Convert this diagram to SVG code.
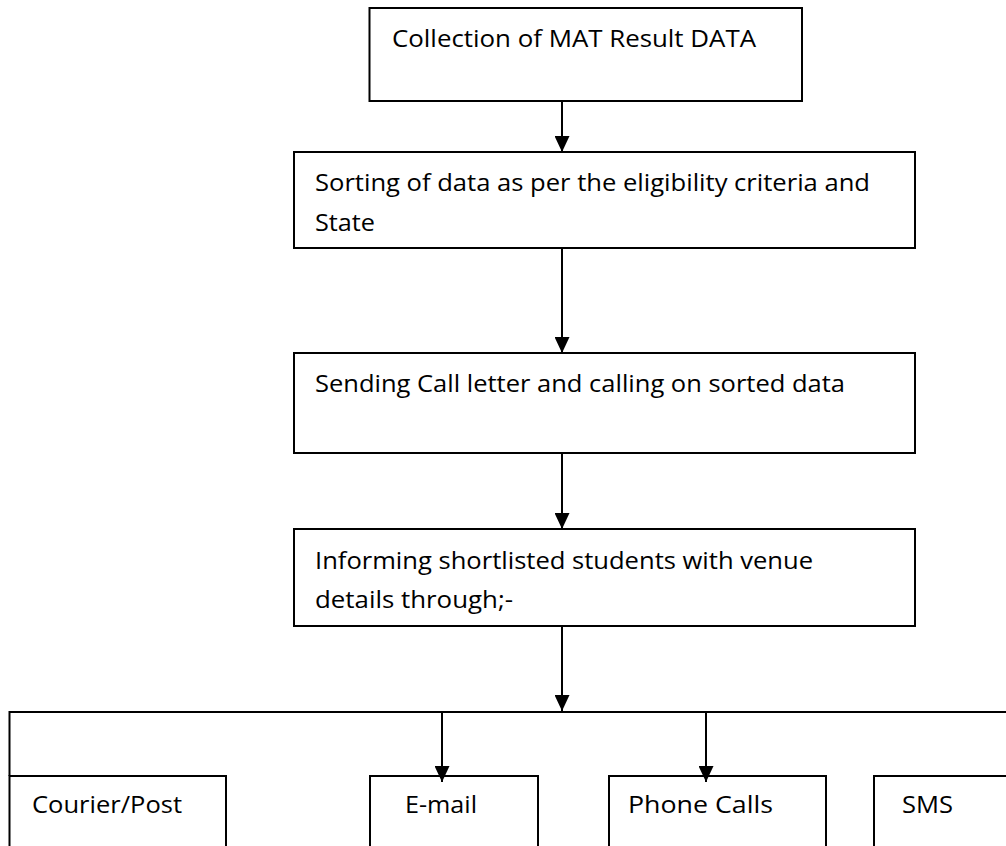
<svg xmlns="http://www.w3.org/2000/svg" width="1006" height="846" viewBox="0 0 1006 846">
<style>
.box{fill:#fff;stroke:#000;stroke-width:2}
.ln{fill:none;stroke:#000;stroke-width:2}
.t{font-family:"Open Sans","Liberation Sans",Arial,sans-serif;font-size:24.5px;fill:#000}
</style>
<defs>
<marker id="ah" markerUnits="userSpaceOnUse" markerWidth="16" markerHeight="15" refX="16" refY="7.5" orient="auto">
<path d="M0,0 L16,7.5 L0,15 z" fill="#000"/>
</marker>
</defs>
<rect width="1006" height="846" fill="#fff"/>
<g id="n1">
<rect class="box" x="369.5" y="8" width="432.5" height="93"/>
<text class="t" x="392" y="47" textLength="364" lengthAdjust="spacingAndGlyphs">Collection of MAT Result DATA</text>
</g>
<g id="n2">
<rect class="box" x="294" y="152" width="621" height="96"/>
<text class="t" x="315" y="191" textLength="555" lengthAdjust="spacingAndGlyphs">Sorting of data as per the eligibility criteria and</text>
<text class="t" x="315" y="231" textLength="60" lengthAdjust="spacingAndGlyphs">State</text>
</g>
<g id="n3">
<rect class="box" x="294" y="353" width="621" height="100"/>
<text class="t" x="315" y="392" textLength="530" lengthAdjust="spacingAndGlyphs">Sending Call letter and calling on sorted data</text>
</g>
<g id="n4">
<rect class="box" x="294" y="529" width="621" height="97"/>
<text class="t" x="315" y="569" textLength="498" lengthAdjust="spacingAndGlyphs">Informing shortlisted students with venue</text>
<text class="t" x="315" y="608" textLength="198" lengthAdjust="spacingAndGlyphs">details through;-</text>
</g>
<g id="n5">
<rect class="box" x="9.5" y="776" width="216.5" height="90"/>
<text class="t" x="32" y="813" textLength="150" lengthAdjust="spacingAndGlyphs">Courier/Post</text>
</g>
<g id="n6">
<rect class="box" x="370" y="776" width="168" height="90"/>
<text class="t" x="405" y="813" textLength="72" lengthAdjust="spacingAndGlyphs">E-mail</text>
</g>
<g id="n7">
<rect class="box" x="609" y="776" width="217" height="90"/>
<text class="t" x="628" y="813" textLength="145" lengthAdjust="spacingAndGlyphs">Phone Calls</text>
</g>
<g id="n8">
<rect class="box" x="874" y="776" width="150" height="90"/>
<text class="t" x="902" y="813" textLength="51" lengthAdjust="spacingAndGlyphs">SMS</text>
</g>
<g id="connectors">
<path class="ln" d="M9.5,776 L9.5,712 L1010,712"/>
<line class="ln" x1="562" y1="101" x2="562" y2="152" marker-end="url(#ah)"/>
<line class="ln" x1="562" y1="248" x2="562" y2="353" marker-end="url(#ah)"/>
<line class="ln" x1="562" y1="453" x2="562" y2="529" marker-end="url(#ah)"/>
<line class="ln" x1="562" y1="626" x2="562" y2="711" marker-end="url(#ah)"/>
<line class="ln" x1="442" y1="712" x2="442" y2="782" marker-end="url(#ah)"/>
<line class="ln" x1="706" y1="712" x2="706" y2="782" marker-end="url(#ah)"/>
</g>
</svg>
